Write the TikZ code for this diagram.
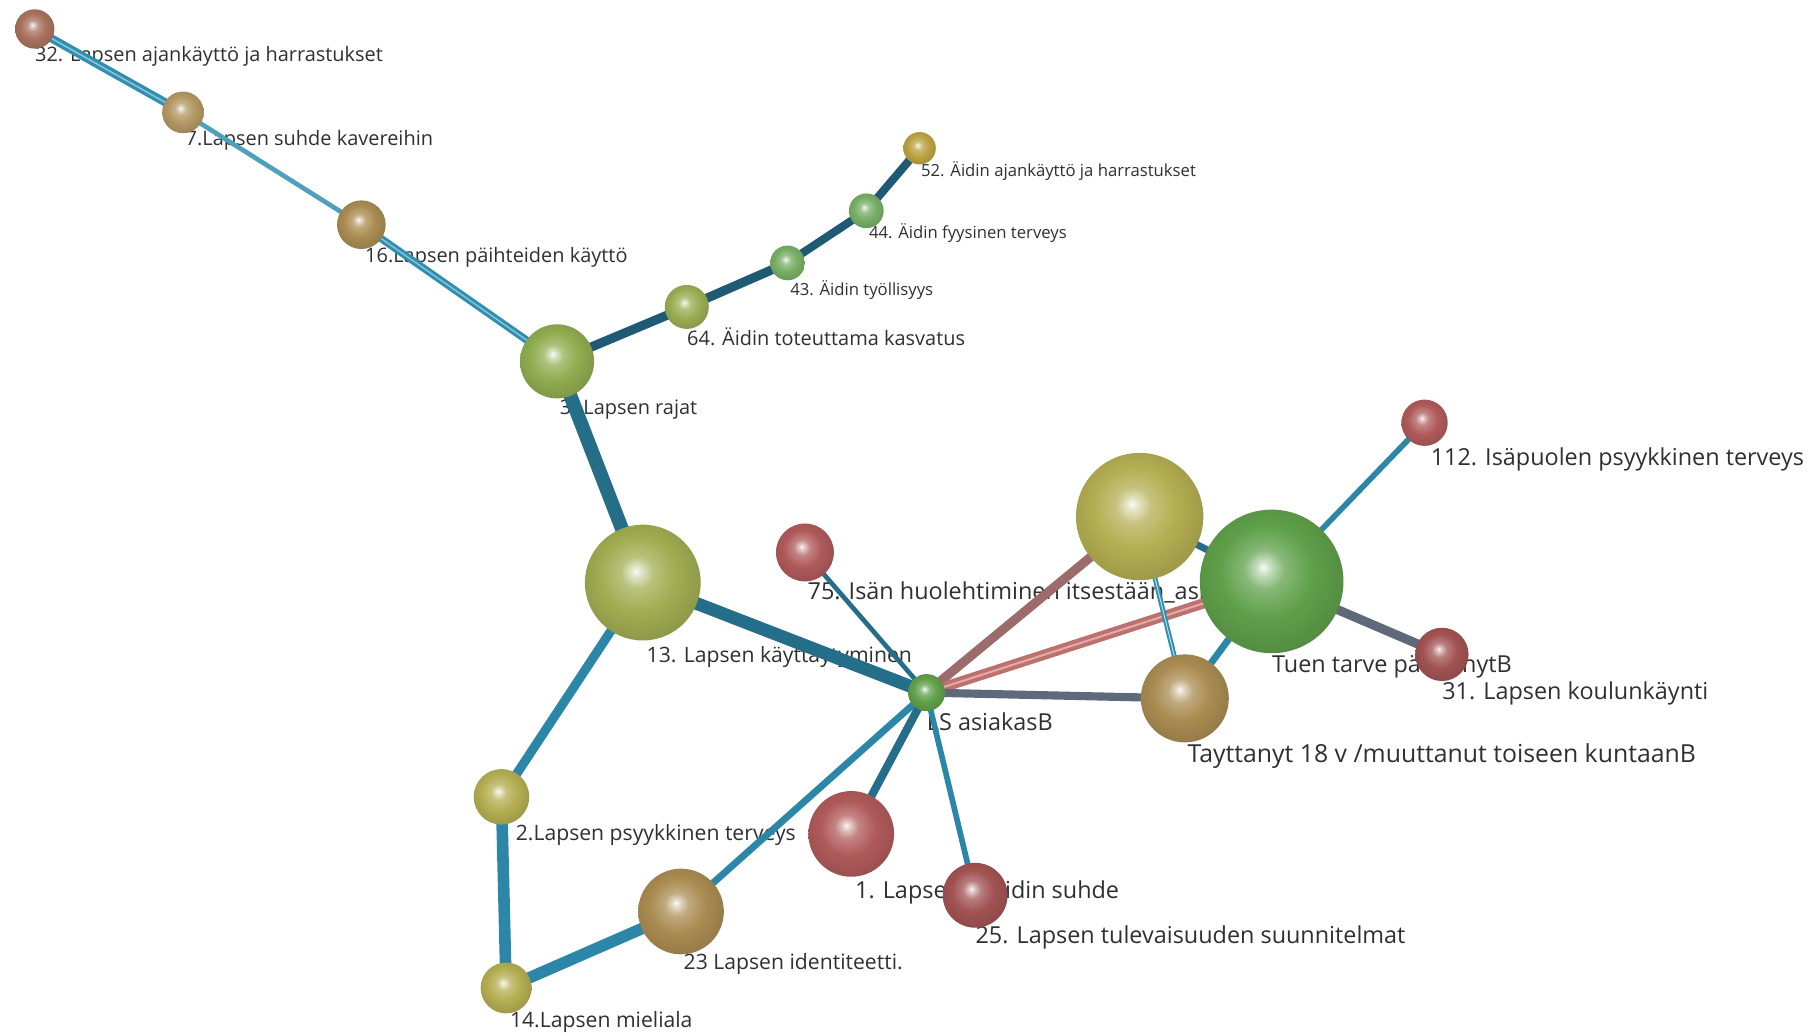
\documentclass[tikz,border=0pt]{standalone}
\usepackage{fontspec}
\setmainfont{Open Sans}
\usetikzlibrary{positioning}

\definecolor{txtgray}{HTML}{303030}
\definecolor{bRose}{HTML}{A8725E}
\definecolor{bRed}{HTML}{B05A5A}
\definecolor{bTan}{HTML}{AA8C52}
\definecolor{bOlive}{HTML}{B4AE52}
\definecolor{bLime}{HTML}{9AAE52}
\definecolor{bGreen}{HTML}{5FA04A}
\definecolor{pipeA}{HTML}{2F8FB0}
\definecolor{pipeB}{HTML}{1E5A73}
\definecolor{pipeC}{HTML}{256E8A}
\definecolor{pipeD}{HTML}{2C86A8}
\definecolor{pipeRose}{HTML}{9C6B6B}
\definecolor{pipeSalmon}{HTML}{D27E7A}
\definecolor{pipeSlate}{HTML}{5E6A7A}
\colorlet{orbc}{bRed}

% sphere shading, one per colour
\pgfdeclareradialshading[orbc]{orb}{\pgfqpoint{-3bp}{5bp}}{%
  color(0bp)=(orbc!5!white); color(2.5bp)=(orbc!35!white);
  color(7bp)=(orbc!75!white); color(16bp)=(orbc);
  color(30bp)=(orbc!85!black); color(42bp)=(orbc!62!black);
  color(50bp)=(orbc!48!black)}

\pgfdeclarelayer{bg}
\pgfdeclarelayer{labels}
\pgfdeclarelayer{edges}
\pgfsetlayers{bg,labels,edges,main}

\tikzset{
  sph/.style={circle, inner sep=0pt, minimum size=#1*0.4mm},
  orb/.style={/utils/exec={\colorlet{orbc}{#1}}, shade, shading=orb},
  lbl/.style={anchor=base west, inner sep=0pt, text=txtgray},
  lblS/.style={lbl, font=\fontsize{8.2}{9}\selectfont},
  lblM/.style={lbl, font=\fontsize{9.8}{11}\selectfont},
  lblN/.style={lbl, font=\fontsize{10.4}{12}\selectfont},
  lblL/.style={lbl, font=\fontsize{11.5}{13}\selectfont},
  pipe/.style={line width=#1, line cap=round},
  tube/.style={line width=0.4*#1, double distance=0.2*#1, line cap=round}
}

\begin{document}
\begin{tikzpicture}[x=0.02cm, y=-0.02cm]
  \useasboundingbox (0,0) rectangle (1568,894);
  \begin{pgfonlayer}{bg}
    \fill[white] (0,0) rectangle (1568,894);
  \end{pgfonlayer}

  % spheres
  \node (n32) [sph=17, orb=bRose] at (30,25) {};
  \node (n7)  [sph=18, orb=bTan!90!white] at (158,97) {};
  \node (n16) [sph=21, orb=bTan] at (312,194) {};
  \node (n3)  [sph=32, orb=bLime!85!bGreen] at (481,312) {};
  \node (n64) [sph=19, orb=bLime] at (593,265) {};
  \node (n43) [sph=15, orb=bGreen!85!white] at (680,227) {};
  \node (n44) [sph=15, orb=bGreen!85!white] at (748,182) {};
  \node (n52) [sph=14, orb=bTan!80!yellow] at (794,128) {};
  \node (n13) [sph=50, orb=bLime!75!bOlive] at (555,503) {};
  \node (n75) [sph=25, orb=bRed] at (695,477) {};
  \node (isa) [sph=55, orb=bOlive] at (984,446) {};
  \node (tuen) [sph=62, orb=bGreen] at (1098,502) {};
  \node (n112) [sph=20, orb=bRed] at (1230,365) {};
  \node (n31) [sph=23, orb=bRed!92!black] at (1245,565) {};
  \node (t18) [sph=38, orb=bTan] at (1023,603) {};
  \node (ls)  [sph=16, orb=bGreen] at (800,598) {};
  \node (n1)  [sph=37, orb=bRed] at (735,720) {};
  \node (n25) [sph=28, orb=bRed!92!black] at (842,773) {};
  \node (n2)  [sph=24, orb=bOlive] at (433,688) {};
  \node (n23) [sph=37, orb=bTan] at (588,787) {};
  \node (n14) [sph=22, orb=bOlive] at (437,853) {};

  % connectors
  \begin{pgfonlayer}{edges}
    \path
      (n32.center) edge[tube=4pt, draw=pipeA, double=pipeA!55!white] (n7.center)
      (n7.center)  edge[pipe=2.3pt, draw=pipeA!85!white] (n16.center)
      (n16.center) edge[tube=3.6pt, draw=pipeA, double=pipeA!55!white] (n3.center)
      (n3.center)  edge[pipe=4.5pt, draw=pipeB] (n64.center)
      (n64.center) edge[pipe=4.5pt, draw=pipeB] (n43.center)
      (n43.center) edge[pipe=4pt, draw=pipeB] (n44.center)
      (n44.center) edge[pipe=4pt, draw=pipeB] (n52.center)
      (n3.center)  edge[pipe=6.8pt, draw=pipeC] (n13.center)
      (n13.center) edge[pipe=6.3pt, draw=pipeC] (ls.center)
      (n13.center) edge[pipe=4.5pt, draw=pipeD] (n2.center)
      (n2.center)  edge[pipe=5.7pt, draw=pipeD] (n14.center)
      (n14.center) edge[pipe=5.7pt, draw=pipeD] (n23.center)
      (n23.center) edge[pipe=3.4pt, draw=pipeD] (ls.center)
      (n1.center)  edge[pipe=4pt, draw=pipeC] (ls.center)
      (n25.center) edge[pipe=2.8pt, draw=pipeD] (ls.center)
      (n75.center) edge[pipe=2.3pt, draw=pipeC] (ls.center)
      (isa.center) edge[pipe=4.5pt, draw=pipeRose] (ls.center)
      (tuen.center) edge[tube=5pt, draw=pipeSalmon!90!black, double=pipeSalmon!65!white] (ls.center)
      (t18.center) edge[pipe=4pt, draw=pipeSlate] (ls.center)
      (isa.center) edge[pipe=3.4pt, draw=pipeC] (tuen.center)
      (isa.center) edge[tube=2.4pt, draw=pipeA, double=pipeA!30!white] (t18.center)
      (tuen.center) edge[pipe=3.4pt, draw=pipeD] (t18.center)
      (tuen.center) edge[pipe=2.8pt, draw=pipeD] (n112.center)
      (tuen.center) edge[pipe=4.5pt, draw=pipeSlate] (n31.center);
  \end{pgfonlayer}

  % labels
  \begin{pgfonlayer}{labels}
    \node (l32) [lblM] at (30,53) {32. Lapsen ajankäyttö ja harrastukset};
    \node (l7)  [lblM] at (160,126) {7.Lapsen suhde kavereihin};
    \node (l16) [lblM] at (315,227) {16.Lapsen päihteiden käyttö};
    \node (l3)  [lblM] at (483,358) {3. Lapsen rajat};
    \node (l64) [lblM] at (593,298) {64. Äidin toteuttama kasvatus};
    \node (l43) [lblS] at (682,255) {43. Äidin työllisyys};
    \node (l44) [lblS] at (750,206) {44. Äidin fyysinen terveys};
    \node (l52) [lblS] at (795,152) {52. Äidin ajankäyttö ja harrastukset};
    \node (l13) [lblN] at (558,572) {13. Lapsen käyttäytyminen};
    \node (l75) [lblL] at (697,518) {75. Isän huolehtiminen itsestään\_asiakasB};
    \node (ltuen) [lblL] at (1098,581) {Tuen tarve päättynytB};
    \node (l31) [lblL] at (1245,604) {31. Lapsen koulunkäynti};
    \node (lt18) [lblL, font=\fontsize{12.2}{14}\selectfont] at (1025,658) {Tayttanyt 18 v /muuttanut toiseen kuntaanB};
    \node (lls) [lblL] at (800,631) {LS asiakasB};
    \node (l1)  [lblL] at (738,776) {1. Lapsen ja äidin suhde};
    \node (l25) [lblL] at (842,815) {25. Lapsen tulevaisuuden suunnitelmat};
    \node (l2)  [lblN] at (445,726) {2.Lapsen psyykkinen terveys};
    \node (l23) [lblN] at (590,837) {23 Lapsen identiteetti.};
    \node (l14) [lblN] at (440,887) {14.Lapsen mieliala};
    \node (l112) [lblL] at (1235,402) {112. Isäpuolen psyykkinen terveys};
  \end{pgfonlayer}
\end{tikzpicture}
\end{document}
